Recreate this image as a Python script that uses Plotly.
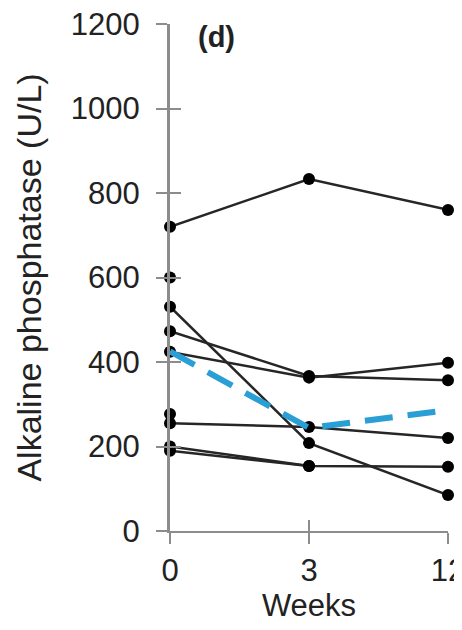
import plotly.graph_objects as go

weeks = ["0", "3", "12"]
subjects = [
    [720, 833, 760],
    [600, None, None],
    [531, 208, 85],
    [473, 367, 357],
    [424, 363, 398],
    [277, None, None],
    [255, 246, 220],
    [200, 154, 152],
    [190, 154, None],
]
mean_values = [425, 244, 286]
y_ticks = [0, 200, 400, 600, 800, 1000, 1200]

xpos = list(range(len(weeks)))
FONT = "Liberation Sans"
AX = "#8c8c8c"

fig = go.Figure()
for s in subjects:
    fig.add_trace(go.Scatter(
        x=xpos, y=s, mode="lines+markers",
        line=dict(color="#262626", width=2.5),
        marker=dict(color="black", size=12),
        cliponaxis=False, showlegend=False, connectgaps=False,
    ))
fig.add_trace(go.Scatter(
    x=xpos, y=mean_values, mode="lines",
    line=dict(color="#2a9fd6", width=6, dash="28px,15px"),
    cliponaxis=False, showlegend=False,
))

common_x = dict(range=[0, 2], tickvals=xpos, ticktext=weeks, showline=True,
                linecolor=AX, linewidth=2, tickcolor=AX, tickwidth=2, ticklen=11,
                showgrid=False, zeroline=False, automargin=False,
                ticklabeloverflow="allow")
common_y = dict(range=[0, 1200], tickvals=y_ticks, showline=True,
                linecolor=AX, linewidth=3, tickcolor=AX, tickwidth=2, ticklen=11,
                showgrid=False, zeroline=False, automargin=False,
                ticklabeloverflow="allow")

# page body has an 8px margin, so the figure is sized and offset to compensate
fig.update_layout(
    width=454, height=622,
    margin=dict(l=162, r=14, t=16, b=99),
    plot_bgcolor="white", paper_bgcolor="white",
    font=dict(family=FONT, size=31, color="#222"),
    xaxis=dict(**common_x, ticks="outside", ticklabelstandoff=0,
               title=dict(text="Weeks", standoff=0, font=dict(size=31))),
    yaxis=dict(**common_y, ticks="outside", ticklabelstandoff=10,
               title=dict(text="Alkaline phosphatase (U/L)", standoff=19, font=dict(size=34))),
    xaxis2=dict(**common_x, ticks="inside", overlaying="x", showticklabels=False),
    yaxis2=dict(**common_y, ticks="inside", overlaying="y", showticklabels=False),
    annotations=[dict(text="<b>(d)</b>", xref="paper", yref="paper", x=0.095, y=1.01,
                      xanchor="left", yanchor="top", showarrow=False,
                      font=dict(family=FONT, size=29, color="#222"))],
)
fig.add_trace(go.Scatter(x=[0], y=[0], xaxis="x2", yaxis="y2", mode="markers",
                         marker=dict(opacity=0), showlegend=False, hoverinfo="skip"))

fig.write_html("out.html")
